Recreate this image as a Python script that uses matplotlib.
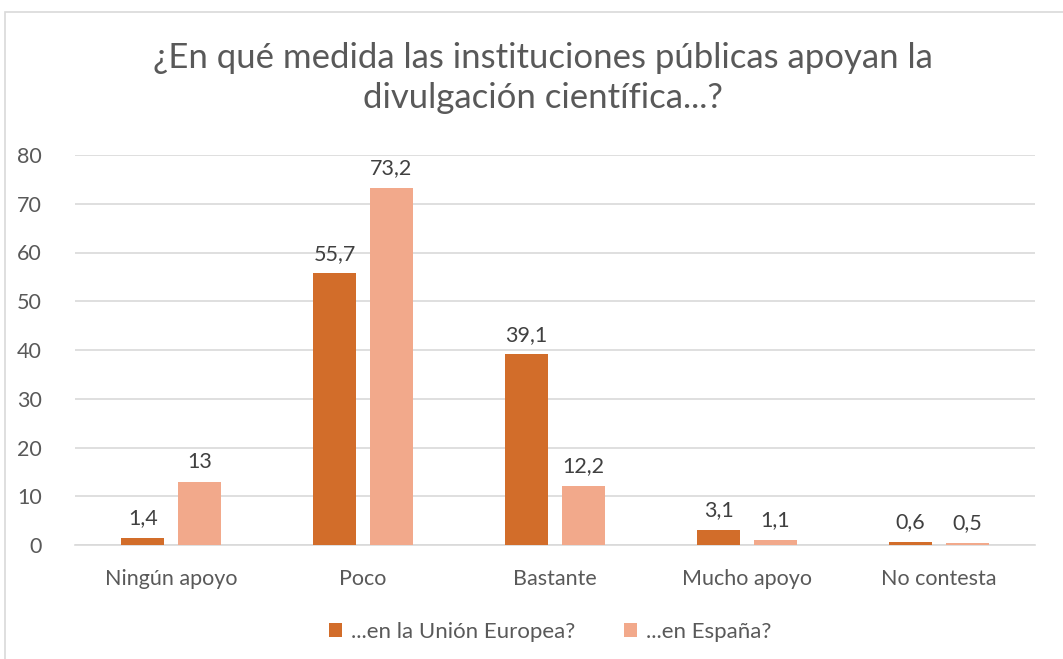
import matplotlib.pyplot as plt
import numpy as np
from matplotlib.patches import Rectangle

plt.rcParams['font.family'] = ['Lato', 'DejaVu Sans']

categorias = ["Ningún apoyo", "Poco", "Bastante", "Mucho apoyo", "No contesta"]
union_europea = [1.4, 55.7, 39.1, 3.1, 0.6]
espana = [13, 73.2, 12.2, 1.1, 0.5]
etiquetas_ue = ["1,4", "55,7", "39,1", "3,1", "0,6"]
etiquetas_es = ["13", "73,2", "12,2", "1,1", "0,5"]
series = ["...en la Unión Europea?", "...en España?"]

color_ue = "#D26D2A"
color_es = "#F2A98B"
gris = "#595959"

W, H = 1063, 659
fig = plt.figure(figsize=(W / 100, H / 100), dpi=100)
# marco del gráfico
fig.patches.append(Rectangle((5 / W, -0.1), 1.2, 1.1 - 12 / H, transform=fig.transFigure,
                             fill=False, edgecolor="#D9D9D9", linewidth=1.2))

ax = fig.add_axes([75 / W, (H - 545) / H, (1035 - 75) / W, (545 - 155) / H])

x = np.arange(len(categorias))
ancho = 0.225
sep = 0.07
b1 = ax.bar(x - (ancho + sep) / 2, union_europea, ancho, color=color_ue, label=series[0], zorder=3)
b2 = ax.bar(x + (ancho + sep) / 2, espana, ancho, color=color_es, label=series[1], zorder=3)

for barras, etiquetas in [(b1, etiquetas_ue), (b2, etiquetas_es)]:
    for b, t in zip(barras, etiquetas):
        ax.annotate(t, (b.get_x() + b.get_width() / 2, b.get_height()),
                    xytext=(0, 7), textcoords="offset points", ha="center", va="bottom",
                    fontsize=15.5, color="#404040")

ax.set_ylim(0, 80)
ax.set_xlim(-0.5, len(categorias) - 0.5)
ax.set_yticks(range(0, 81, 10))
ax.set_xticks(x)
ax.set_xticklabels(categorias)
ax.tick_params(axis="both", length=0, labelsize=15.5, colors=gris)
ax.tick_params(axis="x", pad=17)
ax.tick_params(axis="y", pad=24)
ax.grid(axis="y", color="#D9D9D9", linewidth=1.2, zorder=0)
for s in ["top", "right", "left"]:
    ax.spines[s].set_visible(False)
ax.spines["bottom"].set_color("#D9D9D9")
ax.spines["bottom"].set_linewidth(1.2)

fig.text(543 / W, 1 - 78 / H, "¿En qué medida las instituciones públicas apoyan la\ndivulgación científica...?",
         ha="center", va="center", fontsize=25, color=gris, linespacing=1.3)

fig.legend(handles=[b1, b2], loc="center", bbox_to_anchor=(550 / W, 1 - 632 / H), ncol=2,
           frameon=False, fontsize=16, labelcolor=gris, handlelength=0.6, handleheight=0.6,
           columnspacing=2.2, handletextpad=0.4)

fig.savefig("out.png", dpi=100)
